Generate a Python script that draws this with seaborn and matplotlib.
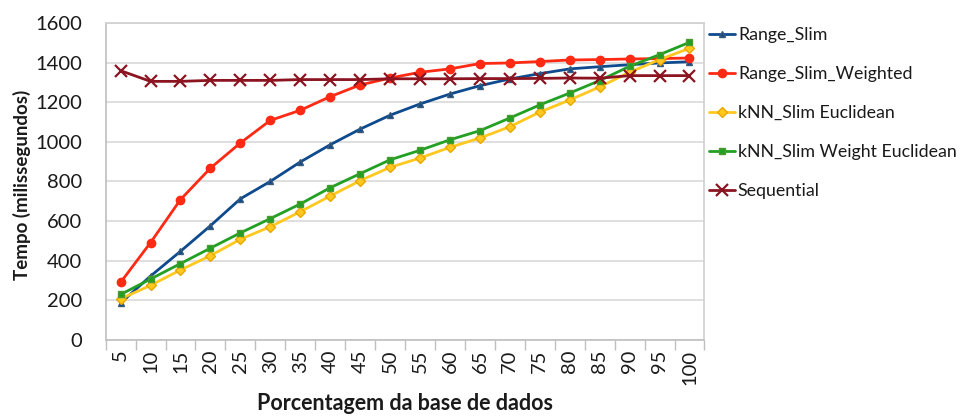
import matplotlib
matplotlib.use("Agg")
import matplotlib.pyplot as plt
import seaborn as sns
import pandas as pd
import numpy as np

categories = ["5", "10", "15", "20", "25", "30", "35", "40", "45", "50",
              "55", "60", "65", "70", "75", "80", "85", "90", "95", "100"]

range_slim = [186, 322, 447, 576, 712, 800, 898, 985, 1064, 1134,
              1191, 1241, 1283, 1317, 1344, 1368, 1379, 1389, 1398, 1404]
range_slim_weighted = [290, 491, 708, 867, 994, 1108, 1159, 1228, 1287, 1322,
                       1351, 1368, 1395, 1398, 1405, 1413, 1415, 1418, 1420, 1423]
knn_euclid = [207, 275, 353, 425, 508, 571, 647, 726, 804, 871,
              918, 972, 1019, 1076, 1150, 1211, 1277, 1351, 1415, 1472]
knn_weight_euclid = [229, 307, 385, 463, 540, 612, 686, 768, 839, 909,
                     957, 1010, 1056, 1120, 1186, 1246, 1309, 1381, 1440, 1502]
sequential = [1359, 1305, 1305, 1310, 1310, 1310, 1314, 1314, 1314, 1318,
              1318, 1318, 1319, 1319, 1320, 1322, 1321, 1334, 1334, 1334]

series_names = ["Range_Slim", "Range_Slim_Weighted", "kNN_Slim Euclidean",
                "kNN_Slim Weight Euclidean", "Sequential"]
series_values = [range_slim, range_slim_weighted, knn_euclid,
                 knn_weight_euclid, sequential]
colors = ["#0E4A8E", "#FF2A14", "#FFC81E", "#22A023", "#8B1420"]
marker_edges = ["#3A5A7A", "#FF2A14", "#E8A800", "#4A9A30", "#7A1018"]
markers = ["^", "o", "D", "s", "x"]
msizes = [5, 6, 5, 5, 8]

sns.set_theme(style="white")
plt.rcParams["font.family"] = ["Lato", "DejaVu Sans"]

fig = plt.figure(figsize=(9.69, 4.17), dpi=100)
ax = fig.add_axes([0.109, 0.185, 0.618, 0.760])

df = pd.DataFrame({"pct": categories})
for name, vals, c, me, m, ms in zip(series_names, series_values, colors,
                                    marker_edges, markers, msizes):
    df[name] = vals
    sns.lineplot(data=df, x="pct", y=name, ax=ax, sort=False, color=c,
                 linewidth=2.0, marker=m, markersize=ms,
                 markeredgecolor=me if m != "x" else c,
                 markeredgewidth=1.0 if m != "x" else 1.6,
                 label=name)

ax.set_ylim(0, 1600)
ax.set_yticks(np.arange(0, 1601, 200))
ax.set_xlim(-0.5, len(categories) - 0.5)
ax.set_xticks(range(len(categories)))
ax.set_xticklabels(categories, rotation=90)
ax.set_xticks(np.arange(-0.5, len(categories), 1.0), minor=True)
ax.tick_params(axis="x", which="major", length=0, pad=7, labelsize=14.5,
               labelcolor="#1a1a1a")
ax.tick_params(axis="x", which="minor", length=7, width=1, color="#BFBFBF",
               direction="out", bottom=True)
ax.tick_params(axis="y", length=0, pad=17, labelsize=14.5, labelcolor="#1a1a1a")

ax.yaxis.grid(True, color="#D9D9D9", linewidth=1.2)
ax.xaxis.grid(False)
ax.set_axisbelow(True)
for side in ["top", "right"]:
    ax.spines[side].set_color("#D0D0D0")
    ax.spines[side].set_linewidth(1.2)
for side in ["left", "bottom"]:
    ax.spines[side].set_color("#BFBFBF")
    ax.spines[side].set_linewidth(1.2)

ax.set_xlabel("Porcentagem da base de dados", fontsize=15.5, fontweight="bold",
              labelpad=6, color="#1a1a1a")
ax.set_ylabel("Tempo (milissegundos)", fontsize=13.5, fontweight="bold",
              color="#1a1a1a")
ax.yaxis.set_label_coords(-0.124, 0.49)

leg = ax.legend(loc="upper left", bbox_to_anchor=(0.995, 1.01), frameon=False,
                fontsize=12.8, handlelength=1.5, handletextpad=0.15,
                labelspacing=1.3, borderaxespad=0.0)
for t in leg.get_texts():
    t.set_color("#1a1a1a")

fig.savefig("out.png", dpi=100, facecolor="white")
